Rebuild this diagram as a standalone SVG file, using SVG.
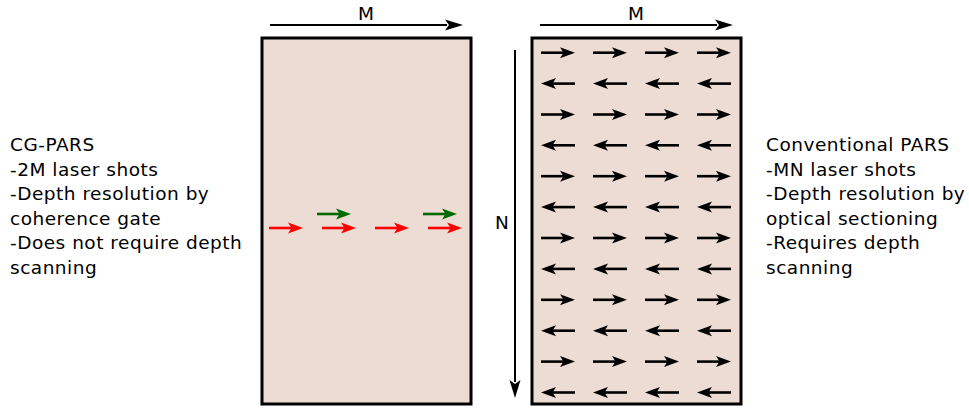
<svg xmlns="http://www.w3.org/2000/svg" xmlns:xlink="http://www.w3.org/1999/xlink" width="969" height="410" viewBox="0 0 969 410">
<style>
.panel{fill:#eddcd3;stroke:#000;stroke-width:3}
.lbl{font-family:"DejaVu Sans","Verdana",sans-serif;font-size:18.5px;letter-spacing:0.5px;fill:#000}
.axl{font-family:"DejaVu Sans","Verdana",sans-serif;font-size:18.5px;fill:#000}
.ax{stroke:#000;stroke-width:2;fill:none}
</style>
<defs>
<g id="ar">
<path d="M0,0 H23" stroke="currentColor" stroke-width="2.6" fill="none"/>
<path d="M34,0 L19,-5.5 L22.5,0 L19,5.5 Z" fill="currentColor"/>
</g>
<g id="al">
<path d="M11,0 H34" stroke="currentColor" stroke-width="2.6" fill="none"/>
<path d="M0,0 L15,-5.5 L11.5,0 L15,5.5 Z" fill="currentColor"/>
</g>
</defs>

<g id="left-panel">
<rect class="panel" x="262" y="38" width="209" height="366"/>
</g>
<g id="right-panel">
<rect class="panel" x="532" y="38" width="209" height="366"/>
</g>

<g id="connectors">
<path class="ax" d="M270,25 H447"/>
<path d="M463,25 L445,19.5 L449,25 L445,30.5 Z" fill="#000"/>
<path class="ax" d="M540,25 H717"/>
<path d="M733,25 L715,19.5 L719,25 L715,30.5 Z" fill="#000"/>
<path class="ax" d="M515,50 V382"/>
<path d="M515,398 L509.5,380 L515,384 L520.5,380 Z" fill="#000"/>
</g>

<g id="m-label-left"><text class="axl" x="366" y="20" text-anchor="middle">M</text></g>
<g id="m-label-right"><text class="axl" x="636" y="20" text-anchor="middle">M</text></g>
<g id="n-label"><text class="axl" x="502" y="229" text-anchor="middle">N</text></g>

<g id="cg-shots">
<use xlink:href="#ar" x="269" y="228" color="#ff0000"/>
<use xlink:href="#ar" x="322" y="228" color="#ff0000"/>
<use xlink:href="#ar" x="375" y="228" color="#ff0000"/>
<use xlink:href="#ar" x="428" y="228" color="#ff0000"/>
<use xlink:href="#ar" x="317" y="214" color="#006a00"/>
<use xlink:href="#ar" x="423" y="214" color="#006a00"/>
</g>

<g id="conv-shots" color="#000">
<g transform="translate(0,52.7)"><use xlink:href="#ar" x="541"/><use xlink:href="#ar" x="593"/><use xlink:href="#ar" x="645"/><use xlink:href="#ar" x="697"/></g>
<g transform="translate(0,83.6)"><use xlink:href="#al" x="541"/><use xlink:href="#al" x="593"/><use xlink:href="#al" x="645"/><use xlink:href="#al" x="697"/></g>
<g transform="translate(0,114.5)"><use xlink:href="#ar" x="541"/><use xlink:href="#ar" x="593"/><use xlink:href="#ar" x="645"/><use xlink:href="#ar" x="697"/></g>
<g transform="translate(0,145.3)"><use xlink:href="#al" x="541"/><use xlink:href="#al" x="593"/><use xlink:href="#al" x="645"/><use xlink:href="#al" x="697"/></g>
<g transform="translate(0,176.2)"><use xlink:href="#ar" x="541"/><use xlink:href="#ar" x="593"/><use xlink:href="#ar" x="645"/><use xlink:href="#ar" x="697"/></g>
<g transform="translate(0,207.1)"><use xlink:href="#al" x="541"/><use xlink:href="#al" x="593"/><use xlink:href="#al" x="645"/><use xlink:href="#al" x="697"/></g>
<g transform="translate(0,238)"><use xlink:href="#ar" x="541"/><use xlink:href="#ar" x="593"/><use xlink:href="#ar" x="645"/><use xlink:href="#ar" x="697"/></g>
<g transform="translate(0,268.9)"><use xlink:href="#al" x="541"/><use xlink:href="#al" x="593"/><use xlink:href="#al" x="645"/><use xlink:href="#al" x="697"/></g>
<g transform="translate(0,299.8)"><use xlink:href="#ar" x="541"/><use xlink:href="#ar" x="593"/><use xlink:href="#ar" x="645"/><use xlink:href="#ar" x="697"/></g>
<g transform="translate(0,330.7)"><use xlink:href="#al" x="541"/><use xlink:href="#al" x="593"/><use xlink:href="#al" x="645"/><use xlink:href="#al" x="697"/></g>
<g transform="translate(0,361.6)"><use xlink:href="#ar" x="541"/><use xlink:href="#ar" x="593"/><use xlink:href="#ar" x="645"/><use xlink:href="#ar" x="697"/></g>
<g transform="translate(0,392.5)"><use xlink:href="#al" x="541"/><use xlink:href="#al" x="593"/><use xlink:href="#al" x="645"/><use xlink:href="#al" x="697"/></g>
</g>

<g id="cg-text">
<text class="lbl" x="10" y="151">CG-PARS</text>
<text class="lbl" x="10" y="175.5">-2M laser shots</text>
<text class="lbl" x="10" y="200">-Depth resolution by</text>
<text class="lbl" x="10" y="224.5">coherence gate</text>
<text class="lbl" x="10" y="249">-Does not require depth</text>
<text class="lbl" x="10" y="273.5">scanning</text>
</g>
<g id="conv-text">
<text class="lbl" x="766" y="151">Conventional PARS</text>
<text class="lbl" x="766" y="175.5">-MN laser shots</text>
<text class="lbl" x="766" y="200">-Depth resolution by</text>
<text class="lbl" x="766" y="224.5">optical sectioning</text>
<text class="lbl" x="766" y="249">-Requires depth</text>
<text class="lbl" x="766" y="273.5">scanning</text>
</g>
</svg>
